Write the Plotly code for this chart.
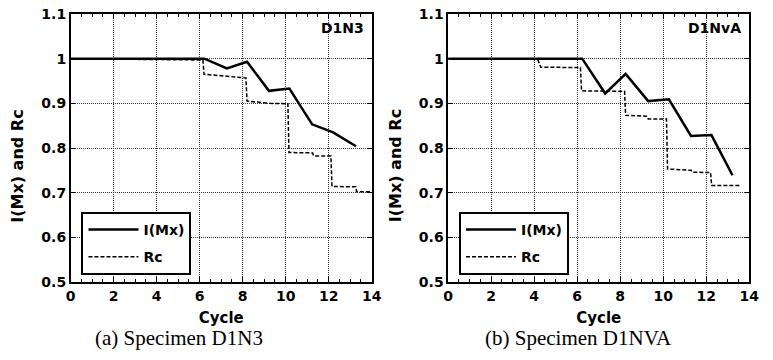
import plotly.graph_objects as go

# ---- data ----
a_imx_x = [0, 6.22, 7.26, 8.2, 9.22, 10.17, 11.23, 12.2, 13.27]
a_imx_y = [1.0, 1.0, 0.978, 0.993, 0.928, 0.933, 0.853, 0.835, 0.804]
a_rc_x = [0, 4.15, 6.15, 6.2, 7.3, 8.15, 8.2, 9.25, 10.1, 10.15, 11.25, 11.3, 12.1, 12.15, 13.25, 13.3, 14]
a_rc_y = [1.0, 0.998, 0.997, 0.965, 0.961, 0.957, 0.905, 0.9, 0.899, 0.79, 0.789, 0.782, 0.782, 0.714, 0.713, 0.702, 0.702]

b_imx_x = [0, 6.23, 7.3, 8.25, 9.3, 10.26, 11.29, 12.24, 13.22]
b_imx_y = [1.0, 1.0, 0.922, 0.966, 0.905, 0.909, 0.827, 0.829, 0.739]
b_rc_x = [0, 4.15, 4.3, 6.15, 6.2, 8.2, 8.25, 9.25, 9.3, 10.15, 10.2, 11.3, 11.35, 12.2, 12.25, 13.6]
b_rc_y = [1.0, 1.0, 0.981, 0.98, 0.928, 0.927, 0.873, 0.871, 0.865, 0.865, 0.753, 0.75, 0.746, 0.745, 0.716, 0.716]

x_ticks = [0, 2, 4, 6, 8, 10, 12, 14]
panel_labels = ["D1N3", "D1NvA"]
captions = ["(a) Specimen D1N3", "(b) Specimen D1NVA"]
series_names = ["I(Mx)", "Rc"]
y_title = "I(Mx) and Rc"

W, H = 773, 360
PT, PB = 14, 282          # plot area top/bottom (px)
PH = PB - PT
dom1 = [67 / W, 374 / W]
dom2 = [452 / W, 759 / W]

SANS = "DejaVu Sans"
bold = lambda s: dict(family=SANS, size=s, color="black", weight="bold")

fig = go.Figure()

for i, (ix, iy, rx, ry) in enumerate([(a_imx_x, a_imx_y, a_rc_x, a_rc_y),
                                      (b_imx_x, b_imx_y, b_rc_x, b_rc_y)]):
    xa = "x" if i == 0 else "x2"
    ya = "y" if i == 0 else "y2"
    lg = "legend" if i == 0 else "legend2"
    fig.add_trace(go.Scatter(x=ix, y=iy, mode="lines", name=series_names[0],
                             line=dict(color="black", width=2.5),
                             xaxis=xa, yaxis=ya, legend=lg, legendgroup=f"g{i}a"))
    fig.add_trace(go.Scatter(x=rx, y=ry, mode="lines", name=series_names[1],
                             line=dict(color="black", width=1.5, dash="4px,2px"),
                             xaxis=xa, yaxis=ya, legend=lg, legendgroup=f"g{i}b"))

axis_common = dict(
    showline=True, linecolor="black", linewidth=1.5, mirror="ticks",
    ticks="inside", ticklen=5, tickwidth=1.2, tickcolor="black",
    showgrid=True, gridcolor="#333333", griddash="1px,1px", gridwidth=1,
    zeroline=False, tickfont=bold(14),
)

for i, dom in enumerate([dom1, dom2]):
    sfx = "" if i == 0 else "2"
    fig.update_layout(**{
        f"xaxis{sfx}": dict(
            axis_common, domain=dom, range=[0, 14], tickvals=x_ticks,
            minor=dict(ticks="inside", ticklen=3, dtick=0.5, tickcolor="black", showgrid=False),
            title=dict(text="Cycle", font=bold(15), standoff=10),
            anchor="y" + sfx if sfx else "y",
        ),
        f"yaxis{sfx}": dict(
            axis_common, domain=[0, 1], range=[0.5, 1.1], dtick=0.1,
            anchor="x" + sfx if sfx else "x",
        ),
    })

legend_common = dict(
    bgcolor="white", bordercolor="black", borderwidth=2,
    font=bold(14), traceorder="grouped", tracegroupgap=6,
    xanchor="left", yanchor="top", itemwidth=50,
    xref="paper", yref="paper",
)
fig.update_layout(
    legend=dict(legend_common, x=78 / W, y=(PB - 212) / PH),
    legend2=dict(legend_common, x=463 / W, y=(PB - 212) / PH),
)

caption_cx = [177, 585]
ytitle_cx = [12, 398]
label_right = [368, 753]
annotations = []
for i, dom in enumerate([dom1, dom2]):
    annotations.append(dict(
        text=panel_labels[i], xref="paper", yref="paper",
        x=label_right[i] / W, y=(PB - 28) / PH,
        xanchor="right", yanchor="middle", showarrow=False, font=bold(14),
    ))
    annotations.append(dict(
        text=captions[i], xref="paper", yref="paper",
        x=caption_cx[i] / W, y=-(338 - PB) / PH, xanchor="center", yanchor="middle",
        showarrow=False, font=dict(family="Liberation Serif", size=21, color="black"),
    ))
    annotations.append(dict(
        text=y_title, xref="paper", yref="paper", textangle=-90,
        x=ytitle_cx[i] / W, y=(PB - 166) / PH, xanchor="center", yanchor="middle",
        showarrow=False, font=bold(16),
    ))

fig.update_layout(
    width=W, height=H,
    margin=dict(l=0, r=0, t=PT, b=H - PB),
    paper_bgcolor="white", plot_bgcolor="white",
    showlegend=True, annotations=annotations,
)

fig.write_html("out.html", config={"displayModeBar": False},
               post_script="document.body.style.margin='0px';")
